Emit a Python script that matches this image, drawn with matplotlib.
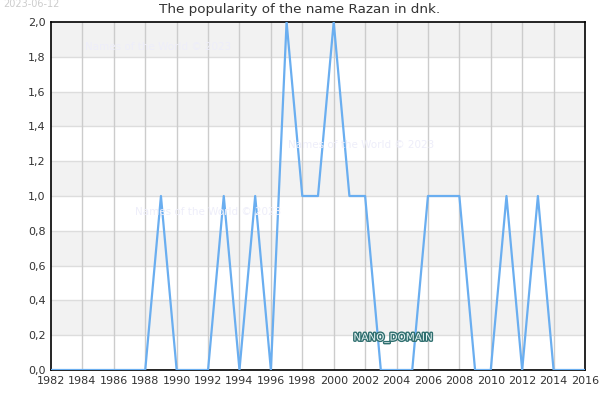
import matplotlib
matplotlib.use('Agg')
import matplotlib.pyplot as plt
import matplotlib.patheffects as pe
import numpy as np

years = list(range(1982, 2017))
counts = [0, 0, 0, 0, 0, 0, 0, 1, 0, 0, 0, 1, 0, 1, 0, 2, 1, 1, 2, 1,
          1, 0, 0, 0, 1, 1, 1, 0, 0, 1, 0, 1, 0, 0, 0]
xticks = list(range(1982, 2017, 2))
yticks = [0.0, 0.2, 0.4, 0.6, 0.8, 1.0, 1.2, 1.4, 1.6, 1.8, 2.0]

fig = plt.figure(figsize=(6, 4), dpi=100)
ax = fig.add_axes([0.085, 0.075, 0.89, 0.87])

# alternating bands
for i in range(1, len(yticks) - 1, 2):
    ax.axhspan(yticks[i], yticks[i + 1], color='#f2f2f2', zorder=0, lw=0)

for y in yticks[1:-1]:
    ax.axhline(y, color='#dddddd', lw=1, zorder=1)
for x in xticks[1:-1]:
    ax.axvline(x, color='#cccccc', lw=1, zorder=1)

ax.plot(years, counts, color='#6aaef0', lw=1.6, zorder=3)

ax.set_xlim(1982, 2016)
ax.set_ylim(0, 2)
ax.set_xticks(xticks)
ax.set_yticks(yticks)
ax.set_yticklabels([('%.1f' % v).replace('.', ',') for v in yticks])
ax.tick_params(length=0, labelsize=8, colors='#333333', pad=4)
for s in ax.spines.values():
    s.set_color('black')
    s.set_linewidth(1.2)

fig.text(0.5, 1 - 10 / 400, 'The popularity of the name Razan in dnk.', fontsize=9.7,
         color='#333333', ha='center', va='center')

# watermarks
wm = dict(color='#eeeefa', fontsize=7.5, transform=fig.transFigure, zorder=5)
fig.text(85 / 600, 1 - 47 / 400, 'Names of the World © 2023', va='center', **wm)
fig.text(135 / 600, 1 - 212 / 400, 'Names of the World © 2023', va='center', **wm)
fig.text(288 / 600, 1 - 145 / 400, 'Names of the World © 2023', va='center', **wm)
fig.text(3 / 600, 1 - 4 / 400, '2023-06-12', color='#cccccc', fontsize=7, va='center')

t = fig.text(393 / 600, 1 - 338 / 400, 'NANO_DOMAIN', color='#e8f4f4', fontsize=7.5,
             ha='center', va='center')
t.set_path_effects([pe.withStroke(linewidth=2, foreground='#2f6f6f')])

fig.savefig('out.png', dpi=100)
